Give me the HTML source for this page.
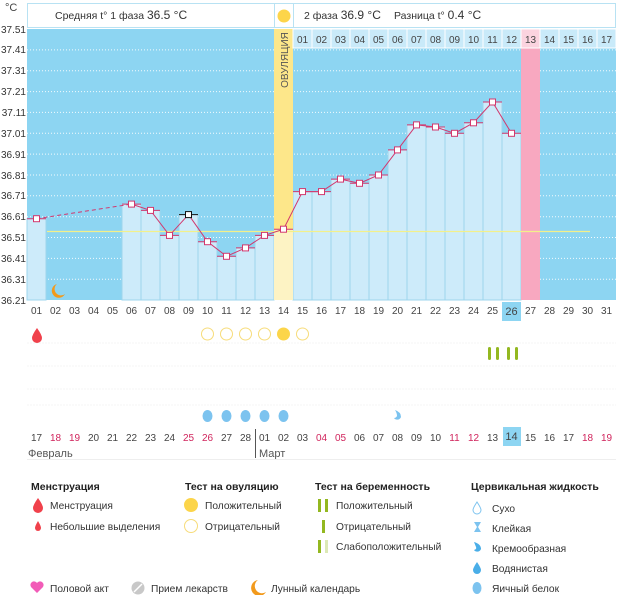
<!DOCTYPE html>
<html><head><meta charset="utf-8"><style>
body{margin:0;background:#fff;width:626px;height:595px;overflow:hidden;font-family:"Liberation Sans",sans-serif}
svg text{font-family:"Liberation Sans","DejaVu Sans",sans-serif}
</style></head><body>
<svg width="626" height="595" viewBox="0 0 626 595" xmlns="http://www.w3.org/2000/svg">
<rect x="27.5" y="3.5" width="588" height="24" fill="#fff" stroke="#b8e2f3"/>
<line x1="274.5" y1="3" x2="274.5" y2="28" stroke="#b8e2f3"/>
<line x1="293.5" y1="3" x2="293.5" y2="28" stroke="#b8e2f3"/>
<circle cx="284" cy="16" r="6.5" fill="#fdd54a"/>
<text x="55" y="19" font-size="10.5" fill="#333">Средняя t° 1 фаза <tspan font-size="12">36.5 °C</tspan></text>
<text x="304" y="19" font-size="10.5" fill="#333">2 фаза <tspan font-size="12">36.9 °C</tspan></text>
<text x="394" y="19" font-size="10.5" fill="#333">Разница t° <tspan font-size="12">0.4 °C</tspan></text>
<text x="5" y="11" font-size="11" fill="#444">°C</text>
<rect x="27" y="29" width="589" height="271" fill="#8dd5f2"/>
<g stroke="#fff" stroke-dasharray="1,2" stroke-width="1" opacity="0.9">
<line x1="27" y1="49.9" x2="616" y2="49.9"/><line x1="27" y1="70.7" x2="616" y2="70.7"/>
<line x1="27" y1="91.6" x2="616" y2="91.6"/><line x1="27" y1="112.4" x2="616" y2="112.4"/>
<line x1="27" y1="133.3" x2="616" y2="133.3"/><line x1="27" y1="154.1" x2="616" y2="154.1"/>
<line x1="27" y1="175" x2="616" y2="175"/><line x1="27" y1="195.8" x2="616" y2="195.8"/>
<line x1="27" y1="216.7" x2="616" y2="216.7"/><line x1="27" y1="237.5" x2="616" y2="237.5"/>
<line x1="27" y1="258.4" x2="616" y2="258.4"/><line x1="27" y1="279.2" x2="616" y2="279.2"/>
</g>
<g font-size="10" fill="#333" text-anchor="end">
<text x="26" y="33">37.51</text><text x="26" y="53">37.41</text><text x="26" y="74">37.31</text>
<text x="26" y="95">37.21</text><text x="26" y="116">37.11</text><text x="26" y="137">37.01</text>
<text x="26" y="158">36.91</text><text x="26" y="179">36.81</text><text x="26" y="199">36.71</text>
<text x="26" y="220">36.61</text><text x="26" y="241">36.51</text><text x="26" y="262">36.41</text>
<text x="26" y="283">36.31</text><text x="26" y="304">36.21</text>
</g>
<g fill="#cdebfa" stroke="#9dd5ec" stroke-width="1">
<rect x="27" y="218.7" width="19" height="81.3"/>
<rect x="122" y="204.1" width="19" height="95.9"/>
<rect x="141" y="210.4" width="19" height="89.6"/>
<rect x="160" y="235.4" width="19" height="64.6"/>
<rect x="179" y="214.6" width="19" height="85.4"/>
<rect x="198" y="241.7" width="19" height="58.3"/>
<rect x="217" y="256.3" width="19" height="43.7"/>
<rect x="236" y="247.9" width="19" height="52.1"/>
<rect x="255" y="235.4" width="19" height="64.6"/>
<rect x="293" y="191.6" width="19" height="108.4"/>
<rect x="312" y="191.6" width="19" height="108.4"/>
<rect x="331" y="179.1" width="19" height="120.9"/>
<rect x="350" y="183.3" width="19" height="116.7"/>
<rect x="369" y="175" width="19" height="125"/>
<rect x="388" y="149.9" width="19" height="150.1"/>
<rect x="407" y="124.9" width="19" height="175.1"/>
<rect x="426" y="127" width="19" height="173"/>
<rect x="445" y="133.3" width="19" height="166.7"/>
<rect x="464" y="122.8" width="19" height="177.2"/>
<rect x="483" y="102" width="19" height="198"/>
<rect x="502" y="133.3" width="19" height="166.7"/>
</g>
<rect x="274" y="29" width="19" height="200" fill="#fde78a"/>
<rect x="274" y="229" width="19" height="71" fill="#fdf3c4"/>
<text transform="translate(288,60) rotate(-90)" font-size="10" fill="#555" text-anchor="middle">ОВУЛЯЦИЯ</text>
<rect x="521" y="29" width="19" height="271" fill="#f8a8c0"/>
<g fill="#c9eaf9" stroke="#fff" stroke-width="1">
<rect x="293" y="29" width="19" height="19"/><rect x="312" y="29" width="19" height="19"/><rect x="331" y="29" width="19" height="19"/><rect x="350" y="29" width="19" height="19"/><rect x="369" y="29" width="19" height="19"/><rect x="388" y="29" width="19" height="19"/><rect x="407" y="29" width="19" height="19"/><rect x="426" y="29" width="19" height="19"/><rect x="445" y="29" width="19" height="19"/><rect x="464" y="29" width="19" height="19"/><rect x="483" y="29" width="19" height="19"/><rect x="502" y="29" width="19" height="19"/><rect x="521" y="29" width="19" height="19" fill="#fbd3df"/><rect x="540" y="29" width="19" height="19"/><rect x="559" y="29" width="19" height="19"/><rect x="578" y="29" width="19" height="19"/><rect x="597" y="29" width="19" height="19"/>
</g>
<g font-size="10" fill="#444" text-anchor="middle">
<text x="302.5" y="43">01</text><text x="321.5" y="43">02</text><text x="340.5" y="43">03</text><text x="359.5" y="43">04</text><text x="378.5" y="43">05</text><text x="397.5" y="43">06</text><text x="416.5" y="43">07</text><text x="435.5" y="43">08</text><text x="454.5" y="43">09</text><text x="473.5" y="43">10</text><text x="492.5" y="43">11</text><text x="511.5" y="43">12</text><text x="530.5" y="43">13</text><text x="549.5" y="43">14</text><text x="568.5" y="43">15</text><text x="587.5" y="43">16</text><text x="606.5" y="43">17</text>
</g>
<line x1="47" y1="231.5" x2="590" y2="231.5" stroke="#f3f08a" stroke-width="1.2"/>
<path d="M57 284 a7 7 0 1 0 8 10 a6 6 0 0 1 -8 -10z" fill="#f29a1c"/>
<line x1="36.5" y1="218.7" x2="131.5" y2="204.1" stroke="#d2386e" stroke-dasharray="4,3"/>
<polyline fill="none" stroke="#d2386e" stroke-width="1" points="131.5,204.1 150.5,210.4 169.5,235.4 188.5,214.6 207.5,241.7 226.5,256.3 245.5,247.9 264.5,235.4 283.5,229.2 302.5,191.6 321.5,191.6 340.5,179.1 359.5,183.3 378.5,175 397.5,149.9 416.5,124.9 435.5,127 454.5,133.3 473.5,122.8 492.5,102 511.5,133.3"/>
<g stroke="#d2386e" stroke-width="1">
<line x1="27" y1="218.7" x2="46" y2="218.7"/><line x1="122" y1="204.1" x2="141" y2="204.1"/><line x1="141" y1="210.4" x2="160" y2="210.4"/><line x1="160" y1="235.4" x2="179" y2="235.4"/><line x1="198" y1="241.7" x2="217" y2="241.7"/><line x1="217" y1="256.3" x2="236" y2="256.3"/><line x1="236" y1="247.9" x2="255" y2="247.9"/><line x1="255" y1="235.4" x2="274" y2="235.4"/><line x1="274" y1="229.2" x2="293" y2="229.2"/><line x1="293" y1="191.6" x2="312" y2="191.6"/><line x1="312" y1="191.6" x2="331" y2="191.6"/><line x1="331" y1="179.1" x2="350" y2="179.1"/><line x1="350" y1="183.3" x2="369" y2="183.3"/><line x1="369" y1="175" x2="388" y2="175"/><line x1="388" y1="149.9" x2="407" y2="149.9"/><line x1="407" y1="124.9" x2="426" y2="124.9"/><line x1="426" y1="127" x2="445" y2="127"/><line x1="445" y1="133.3" x2="464" y2="133.3"/><line x1="464" y1="122.8" x2="483" y2="122.8"/><line x1="483" y1="102" x2="502" y2="102"/><line x1="502" y1="133.3" x2="521" y2="133.3"/>
</g>
<line x1="179" y1="214.6" x2="198" y2="214.6" stroke="#111"/>
<g fill="#fff" stroke="#d2386e" stroke-width="1">
<rect x="33.5" y="215.7" width="6" height="6"/><rect x="128.5" y="201.1" width="6" height="6"/><rect x="147.5" y="207.4" width="6" height="6"/><rect x="166.5" y="232.4" width="6" height="6"/><rect x="204.5" y="238.7" width="6" height="6"/><rect x="223.5" y="253.3" width="6" height="6"/><rect x="242.5" y="244.9" width="6" height="6"/><rect x="261.5" y="232.4" width="6" height="6"/><rect x="280.5" y="226.2" width="6" height="6"/><rect x="299.5" y="188.6" width="6" height="6"/><rect x="318.5" y="188.6" width="6" height="6"/><rect x="337.5" y="176.1" width="6" height="6"/><rect x="356.5" y="180.3" width="6" height="6"/><rect x="375.5" y="172" width="6" height="6"/><rect x="394.5" y="146.9" width="6" height="6"/><rect x="413.5" y="121.9" width="6" height="6"/><rect x="432.5" y="124" width="6" height="6"/><rect x="451.5" y="130.3" width="6" height="6"/><rect x="470.5" y="119.8" width="6" height="6"/><rect x="489.5" y="99" width="6" height="6"/><rect x="508.5" y="130.3" width="6" height="6"/>
</g>
<rect x="185.5" y="211.6" width="6" height="6" fill="#fff" stroke="#111"/>
<rect x="502" y="302" width="19" height="19" fill="#8dd5f2"/>
<g font-size="10" fill="#444" text-anchor="middle">
<text x="36.5" y="314">01</text><text x="55.5" y="314">02</text><text x="74.5" y="314">03</text><text x="93.5" y="314">04</text><text x="112.5" y="314">05</text><text x="131.5" y="314">06</text><text x="150.5" y="314">07</text><text x="169.5" y="314">08</text><text x="188.5" y="314">09</text><text x="207.5" y="314">10</text><text x="226.5" y="314">11</text><text x="245.5" y="314">12</text><text x="264.5" y="314">13</text><text x="283.5" y="314">14</text><text x="302.5" y="314">15</text><text x="321.5" y="314">16</text><text x="340.5" y="314">17</text><text x="359.5" y="314">18</text><text x="378.5" y="314">19</text><text x="397.5" y="314">20</text><text x="416.5" y="314">21</text><text x="435.5" y="314">22</text><text x="454.5" y="314">23</text><text x="473.5" y="314">24</text><text x="492.5" y="314">25</text><text x="511.5" y="315" font-size="11">26</text><text x="530.5" y="314">27</text><text x="549.5" y="314">28</text><text x="568.5" y="314">29</text><text x="587.5" y="314">30</text><text x="606.5" y="314">31</text>
</g>
<g stroke="#f6f6f6" stroke-width="1" stroke-dasharray="2,1">
<line x1="27" y1="343" x2="616" y2="343"/><line x1="27" y1="366" x2="616" y2="366"/><line x1="27" y1="389" x2="616" y2="389"/><line x1="27" y1="405" x2="616" y2="405"/>
</g>
<path d="M37 328 q-5 7 -5 10 a5 5 0 0 0 10 0 q0 -3 -5 -10z" fill="#f0414b"/>
<g fill="none" stroke="#f7dc7a" stroke-width="1">
<circle cx="207.5" cy="334" r="6"/><circle cx="226.5" cy="334" r="6"/><circle cx="245.5" cy="334" r="6"/><circle cx="264.5" cy="334" r="6"/><circle cx="302.5" cy="334" r="6"/>
</g>
<circle cx="283.5" cy="334" r="6.5" fill="#fcd54a"/>
<g fill="#93b820">
<rect x="488" y="347" width="3" height="13" rx="1.5"/><rect x="496" y="347" width="3" height="13" rx="1.5"/><rect x="507" y="347" width="3" height="13" rx="1.5"/><rect x="515" y="347" width="3" height="13" rx="1.5"/>
</g>
<g fill="#7cc3ef">
<ellipse cx="207.5" cy="416" rx="5" ry="6"/><ellipse cx="226.5" cy="416" rx="5" ry="6"/><ellipse cx="245.5" cy="416" rx="5" ry="6"/><ellipse cx="264.5" cy="416" rx="5" ry="6"/><ellipse cx="283.5" cy="416" rx="5" ry="6"/>
<path d="M395 410 q6 2 6 7 a4 4 0 0 1 -7 1 q2 0 3 -2 q0 -3 -2 -6z"/>
</g>
<rect x="503" y="427" width="18" height="19" fill="#8dd5f2"/>
<g font-size="10" fill="#444" text-anchor="middle">
<text x="36.5" y="441">17</text><text x="55.5" y="441" fill="#d0245c">18</text><text x="74.5" y="441" fill="#d0245c">19</text><text x="93.5" y="441">20</text><text x="112.5" y="441">21</text><text x="131.5" y="441">22</text><text x="150.5" y="441">23</text><text x="169.5" y="441">24</text><text x="188.5" y="441" fill="#d0245c">25</text><text x="207.5" y="441" fill="#d0245c">26</text><text x="226.5" y="441">27</text><text x="245.5" y="441">28</text><text x="264.5" y="441">01</text><text x="283.5" y="441">02</text><text x="302.5" y="441">03</text><text x="321.5" y="441" fill="#d0245c">04</text><text x="340.5" y="441" fill="#d0245c">05</text><text x="359.5" y="441">06</text><text x="378.5" y="441">07</text><text x="397.5" y="441">08</text><text x="416.5" y="441">09</text><text x="435.5" y="441">10</text><text x="454.5" y="441" fill="#d0245c">11</text><text x="473.5" y="441" fill="#d0245c">12</text><text x="492.5" y="441">13</text><text x="511.5" y="440" font-size="11">14</text><text x="530.5" y="441">15</text><text x="549.5" y="441">16</text><text x="568.5" y="441">17</text><text x="587.5" y="441" fill="#d0245c">18</text><text x="606.5" y="441" fill="#d0245c">19</text>
</g>
<line x1="255.5" y1="429" x2="255.5" y2="458" stroke="#555"/>
<text x="28" y="457" font-size="11" fill="#555">Февраль</text>
<text x="259" y="457" font-size="11" fill="#555">Март</text>
<line x1="27" y1="459.5" x2="616" y2="459.5" stroke="#eee"/>
<g font-size="10.5" fill="#222" font-weight="bold">
<text x="31" y="490">Менструация</text><text x="185" y="490">Тест на овуляцию</text><text x="315" y="490">Тест на беременность</text><text x="471" y="490">Цервикальная жидкость</text>
</g>
<g font-size="10.2" fill="#333">
<text x="50" y="509">Менструация</text><text x="50" y="530">Небольшие выделения</text>
<text x="205" y="509">Положительный</text><text x="205" y="530">Отрицательный</text>
<text x="336" y="509">Положительный</text><text x="336" y="530">Отрицательный</text><text x="336" y="550">Слабоположительный</text>
<text x="492" y="512">Сухо</text><text x="492" y="532">Клейкая</text><text x="492" y="552">Кремообразная</text><text x="492" y="572">Водянистая</text><text x="492" y="592">Яичный белок</text>
<text x="50" y="592">Половой акт</text><text x="151" y="592">Прием лекарств</text><text x="271" y="592">Лунный календарь</text>
</g>
<path d="M38 498 q-5 7 -5 10 a5 5 0 0 0 10 0 q0 -3 -5 -10z" fill="#f0414b"/>
<path d="M38 521 q-3 5 -3 7 a3 3 0 0 0 6 0 q0 -2 -3 -7z" fill="#f0414b"/>
<circle cx="191" cy="505" r="7" fill="#fcd54a"/>
<circle cx="191" cy="526" r="6.5" fill="none" stroke="#f7dc7a"/>
<g fill="#93b820"><rect x="318" y="499" width="3" height="13"/><rect x="325" y="499" width="3" height="13"/><rect x="322" y="520" width="3" height="13"/><rect x="318" y="540" width="3" height="13"/></g>
<rect x="325" y="540" width="3" height="13" fill="#dce9b5"/>
<path d="M477 502 q-4 6 -4 8 a4 4 0 0 0 8 0 q0 -2 -4 -8z" fill="none" stroke="#7cc3ef"/>
<path d="M474 522 h7 l-3 5 l3 5 h-7 l3 -5z" fill="#7cc3ef"/>
<path d="M474 542 q7 2 7 7 a4 4 0 0 1 -7 1 q3 -1 2 -3z" fill="#4aaee8"/>
<path d="M477 562 q-4 6 -4 8 a4 4 0 0 0 8 0 q0 -2 -4 -8z" fill="#4aaee8"/>
<ellipse cx="477" cy="588" rx="4.5" ry="6" fill="#7cc3ef"/>
<path d="M37 593 l-6 -6 a3.5 3.5 0 0 1 6 -4 a3.5 3.5 0 0 1 6 4z" fill="#f25cb8"/>
<circle cx="138" cy="588" r="6.5" fill="#c8c8c8"/><line x1="134" y1="592" x2="142" y2="584" stroke="#fff" stroke-width="1.5"/>
<path d="M258 580 a8 8 0 1 0 8 12 a7 7 0 0 1 -8 -12z" fill="#f29a1c"/>
</svg>
</body></html>
